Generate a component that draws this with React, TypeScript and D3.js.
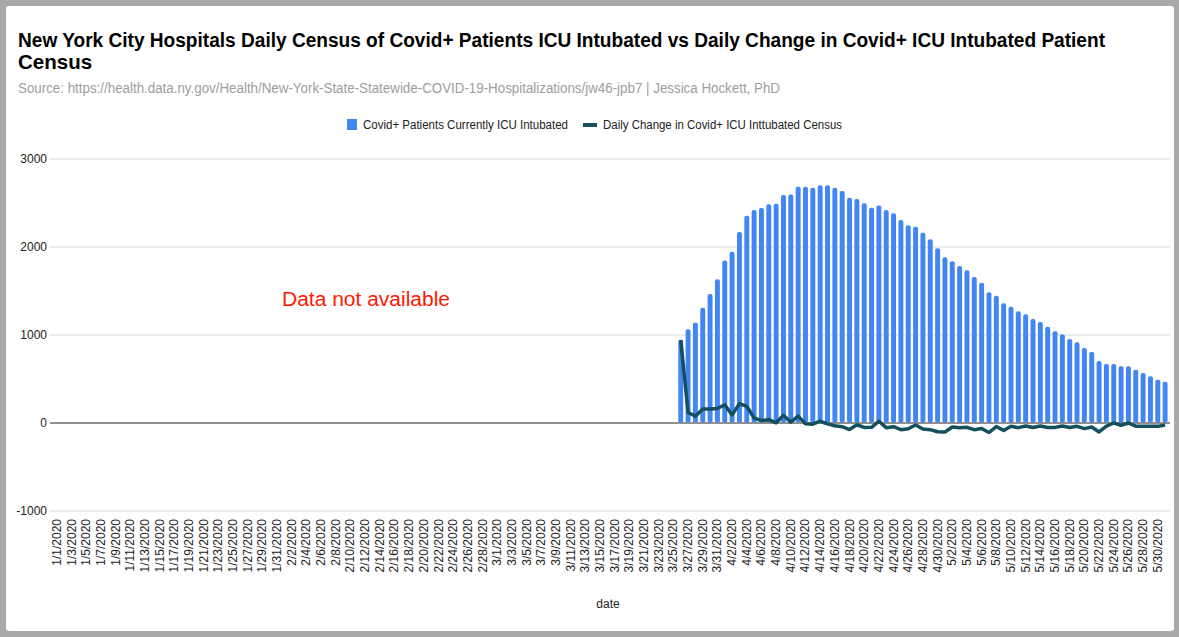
import React, { useEffect, useRef } from 'react';
import * as d3 from 'd3';

// categories: every day from 1/1/2020 to 5/31/2020
const dates = d3.timeDays(new Date(2020, 0, 1), new Date(2020, 5, 1));
const fmt = d3.timeFormat('%-m/%-d/%Y');
const dateLabels = dates.map((d) => fmt(d));

// data starts 3/26/2020
const firstDataLabel = '3/26/2020';

const icuIntubated = [
  943, 1064, 1140, 1311, 1466, 1633, 1848, 1947, 2170, 2356, 2420, 2443, 2485, 2492, 2591, 2598,
  2686, 2686, 2674, 2701, 2701, 2674, 2636, 2561, 2545, 2496, 2447, 2473, 2420, 2383, 2307, 2246,
  2231, 2163, 2087, 1985, 1883, 1837, 1784, 1735, 1659, 1595, 1485, 1447, 1360, 1322, 1269, 1235,
  1182, 1148, 1095, 1042, 1008, 955, 917, 852, 807, 705, 670, 670, 644, 644, 606, 568, 530, 492, 470,
];

const dailyChange = [
  943, 120, 78, 160, 158, 165, 208, 92, 220, 190, 55, 28, 38, 2, 88, 10,
  78, -8, -14, 20, -10, -32, -42, -74, -20, -50, -49, 20, -53, -42, -76, -65,
  -22, -68, -76, -100, -102, -46, -53, -49, -76, -62, -108, -40, -86, -38, -53, -35,
  -52, -34, -52, -50, -34, -52, -38, -64, -45, -102, -35, 0, -26, 0, -36, -38, -37, -38, -22,
];

const yTicks = [-1000, 0, 1000, 2000, 3000];

const title1 = 'New York City Hospitals Daily Census of Covid+ Patients ICU Intubated vs Daily Change in Covid+ ICU Intubated Patient';
const title2 = 'Census';
const subtitle = 'Source: https://health.data.ny.gov/Health/New-York-State-Statewide-COVID-19-Hospitalizations/jw46-jpb7 | Jessica Hockett, PhD';
const barName = 'Covid+ Patients Currently ICU Intubated';
const lineName = 'Daily Change in Covid+ ICU Inttubated Census';

const W = 1179;
const H = 637;
const FONT = '"Liberation Sans", Arial, Helvetica, sans-serif';

function Chart() {
  const svgRef = useRef<SVGSVGElement>(null);

  useEffect(() => {
    const svg = d3.select(svgRef.current);
    svg.selectAll('*').remove();

    // window frame
    svg.append('rect').attr('width', W).attr('height', H).attr('fill', '#a9a9a9');
    svg
      .append('rect')
      .attr('x', 6)
      .attr('y', 6)
      .attr('width', 1168)
      .attr('height', 625)
      .attr('rx', 3)
      .attr('fill', '#fff');

    const x = d3.scaleBand().domain(dateLabels).range([52, 1170]).padding(0.33);
    const y = d3.scaleLinear().domain([-1000, 3000]).range([511, 159]);

    // titles
    svg
      .append('text')
      .attr('x', 18)
      .attr('y', 47)
      .attr('font-family', FONT)
      .attr('font-weight', 'bold')
      .attr('font-size', 20)
      .attr('textLength', 1087)
      .attr('lengthAdjust', 'spacingAndGlyphs')
      .attr('fill', '#000')
      .text(title1);
    svg
      .append('text')
      .attr('x', 18)
      .attr('y', 69)
      .attr('font-family', FONT)
      .attr('font-weight', 'bold')
      .attr('font-size', 20.5)
      .attr('fill', '#000')
      .text(title2);
    svg
      .append('text')
      .attr('x', 18)
      .attr('y', 93)
      .attr('font-family', FONT)
      .attr('font-size', 14)
      .attr('textLength', 762)
      .attr('lengthAdjust', 'spacingAndGlyphs')
      .attr('fill', '#9e9e9e')
      .text(subtitle);

    // legend
    const lg = svg.append('g').attr('font-family', FONT).attr('font-size', 12).attr('fill', '#222');
    lg.append('rect').attr('x', 347).attr('y', 119).attr('width', 10).attr('height', 11).attr('fill', '#4285f4');
    lg.append('text').attr('x', 363).attr('y', 129).attr('textLength', 205).attr('lengthAdjust', 'spacingAndGlyphs').text(barName);
    lg.append('line').attr('x1', 583).attr('x2', 597).attr('y1', 125).attr('y2', 125).attr('stroke', '#134f5c').attr('stroke-width', 4);
    lg.append('text').attr('x', 603).attr('y', 129).attr('textLength', 239).attr('lengthAdjust', 'spacingAndGlyphs').text(lineName);

    // gridlines + y labels
    const grid = svg.append('g');
    yTicks.forEach((t) => {
      grid
        .append('line')
        .attr('x1', 50)
        .attr('x2', 1170)
        .attr('y1', y(t))
        .attr('y2', y(t))
        .attr('stroke', t === 0 ? '#888' : '#dadada')
        .attr('stroke-width', t === 0 ? 1.3 : 1);
      grid
        .append('text')
        .attr('x', 47)
        .attr('y', y(t) + 4)
        .attr('text-anchor', 'end')
        .attr('font-family', FONT)
        .attr('font-size', 12)
        .attr('fill', '#222')
        .text(t);
    });

    // bars
    const start = dateLabels.indexOf(firstDataLabel);
    const barData = icuIntubated.map((v, i) => ({ d: dateLabels[start + i], v }));
    const lineData = dailyChange.map((v, i) => ({ d: dateLabels[start + i], v }));

    svg
      .append('g')
      .selectAll('rect')
      .data(barData)
      .enter()
      .append('rect')
      .attr('x', (d) => x(d.d)!)
      .attr('y', (d) => y(d.v))
      .attr('width', x.bandwidth())
      .attr('height', (d) => y(0) - y(d.v))
      .attr('rx', 2)
      .attr('fill', '#4285f4');

    // redraw baseline over bars
    svg.append('line').attr('x1', 50).attr('x2', 1170).attr('y1', y(0)).attr('y2', y(0)).attr('stroke', '#888').attr('stroke-width', 1.3);

    const line = d3
      .line<{ d: string; v: number }>()
      .x((d) => x(d.d)! + x.bandwidth() / 2)
      .y((d) => y(d.v));
    svg
      .append('path')
      .datum(lineData)
      .attr('d', line)
      .attr('fill', 'none')
      .attr('stroke', '#134f5c')
      .attr('stroke-width', 3.5)
      .attr('stroke-linejoin', 'round');

    // x labels, every other day
    const xl = svg.append('g').attr('font-family', FONT).attr('font-size', 12).attr('fill', '#222');
    dateLabels.forEach((lab, i) => {
      if (i % 2 !== 0) return;
      const cx = x(lab)! + x.bandwidth() / 2;
      xl.append('text')
        .attr('transform', `translate(${cx + 4},519) rotate(-90)`)
        .attr('text-anchor', 'end')
        .text(lab);
    });

    svg
      .append('text')
      .attr('x', 608)
      .attr('y', 608)
      .attr('text-anchor', 'middle')
      .attr('font-family', FONT)
      .attr('font-size', 12)
      .attr('fill', '#222')
      .text('date');

    svg
      .append('text')
      .attr('x', 282)
      .attr('y', 306)
      .attr('font-family', FONT)
      .attr('font-size', 20)
      .attr('textLength', 168)
      .attr('lengthAdjust', 'spacingAndGlyphs')
      .attr('fill', '#ff1a00')
      .text('Data not available');
  }, []);

  return <svg ref={svgRef} width={W} height={H} style={{ display: 'block' }}></svg>;
}

export default function App() {
  return (
    <div style={{ position: 'absolute', left: 0, top: 0, width: W, height: H }}>
      <Chart />
    </div>
  );
}
